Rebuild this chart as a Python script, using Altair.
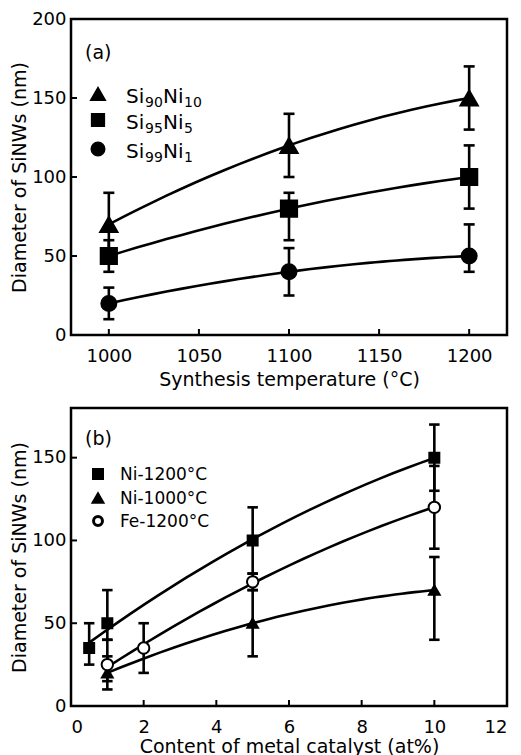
import altair as alt
import pandas as pd

FONT = "DejaVu Sans"

# ---------------- Panel (a) data ----------------
temps = [1000, 1100, 1200]
a_series = ["Si90Ni10", "Si95Ni5", "Si99Ni1"]
a_mean = {"Si90Ni10": [70, 120, 150], "Si95Ni5": [50, 80, 100], "Si99Ni1": [20, 40, 50]}
a_lo = {"Si90Ni10": [50, 100, 130], "Si95Ni5": [40, 60, 80], "Si99Ni1": [10, 25, 40]}
a_hi = {"Si90Ni10": [90, 140, 170], "Si95Ni5": [60, 90, 120], "Si99Ni1": [30, 55, 70]}
a_shapes = ["triangle-up", "square", "circle"]
a_xticks = [1000, 1050, 1100, 1150, 1200]
a_yticks = [0, 50, 100, 150, 200]

# ---------------- Panel (b) data ----------------
b_series = ["Ni-1200°C", "Ni-1000°C", "Fe-1200°C"]
b_x = {"Ni-1200°C": [0.5, 1, 5, 10], "Ni-1000°C": [1, 5, 10], "Fe-1200°C": [1, 2, 5, 10]}
b_mean = {"Ni-1200°C": [35, 50, 100, 150], "Ni-1000°C": [20, 50, 70], "Fe-1200°C": [25, 35, 75, 120]}
b_lo = {"Ni-1200°C": [25, 40, 80, 130], "Ni-1000°C": [10, 30, 40], "Fe-1200°C": [15, 20, 70, 95]}
b_hi = {"Ni-1200°C": [50, 70, 120, 170], "Ni-1000°C": [30, 70, 90], "Fe-1200°C": [40, 50, 80, 145]}
b_shapes = ["square", "triangle-up", "circle"]
b_xticks = [0, 2, 4, 6, 8, 10, 12]
b_yticks = [0, 50, 100, 150]


def table(series, xs, mean, lo, hi):
    rows = []
    for s in series:
        xv = xs[s] if isinstance(xs, dict) else xs
        for i, x in enumerate(xv):
            rows.append({"series": s, "x": x, "y": mean[s][i], "lo": lo[s][i], "hi": hi[s][i]})
    return pd.DataFrame(rows)


df_a = table(a_series, temps, a_mean, a_lo, a_hi)
df_b = table(b_series, b_x, b_mean, b_lo, b_hi)

CAP = "M-1,0L1,0"


def panel(df, series, shapes, sizes, fills, strokes, xdom, ydom, xticks, yticks, xtitle, ytitle,
          W, H, capsize, lw, tag, legend_items, legend_pos, leg_sizes, xlabpad, xtitpad):
    xs = alt.Scale(domain=xdom, nice=False, zero=False)
    ys = alt.Scale(domain=ydom, nice=False, zero=False)
    xax = alt.Axis(values=xticks, title=xtitle, format="d", labelPadding=xlabpad, titlePadding=xtitpad)
    yax = alt.Axis(values=yticks, title=ytitle, format="d", labelPadding=5, titlePadding=2)

    def X(f):
        return alt.X(f, type="quantitative", scale=xs, axis=xax)

    def Y(f):
        return alt.Y(f, type="quantitative", scale=ys, axis=yax)

    base = alt.Chart(df)
    bars = base.mark_rule(color="black", strokeWidth=lw).encode(x=X("x"), y=Y("lo"), y2="hi")
    cap_lo = base.mark_point(shape=CAP, size=capsize, filled=False, color="black",
                             strokeWidth=lw, opacity=1).encode(x=X("x"), y=Y("lo"))
    cap_hi = base.mark_point(shape=CAP, size=capsize, filled=False, color="black",
                             strokeWidth=lw, opacity=1).encode(x=X("x"), y=Y("hi"))
    lines = base.transform_regression(
        "x", "y", groupby=["series"], method="poly", order=2
    ).mark_line(color="black", strokeWidth=lw).encode(x=X("x"), y=Y("y"), detail="series:N")
    pts = base.mark_point(opacity=1, stroke="black").encode(
        x=X("x"), y=Y("y"),
        shape=alt.Shape("series:N", scale=alt.Scale(domain=series, range=shapes), legend=None),
        size=alt.Size("series:N", scale=alt.Scale(domain=series, range=sizes), legend=None),
        fill=alt.Fill("series:N", scale=alt.Scale(domain=series, range=fills), legend=None),
        strokeWidth=alt.StrokeWidth("series:N", scale=alt.Scale(domain=series, range=strokes), legend=None),
    )
    # inward tick marks
    xt = alt.Chart(pd.DataFrame({"t": xticks})).mark_rule(color="black", strokeWidth=2).encode(
        x=X("t"), y=alt.value(H), y2=alt.value(H - 6))
    yt = alt.Chart(pd.DataFrame({"t": yticks})).mark_rule(color="black", strokeWidth=2).encode(
        y=Y("t"), x=alt.value(0), x2=alt.value(6))

    layers = [xt, yt, bars, cap_lo, cap_hi, lines, pts]

    # panel tag
    layers.append(alt.Chart(pd.DataFrame({"t": [tag]})).mark_text(
        font=FONT, fontSize=19, align="left", baseline="middle", color="black"
    ).encode(x=alt.value(legend_pos["tagx"]), y=alt.value(legend_pos["tagy"]), text="t:N"))

    # legend
    for i, (s, shp) in enumerate(zip(series, shapes)):
        yy = legend_pos["y"][i]
        layers.append(alt.Chart(pd.DataFrame({"s": [s]})).mark_point(
            shape=shp, size=leg_sizes[i], opacity=1, fill=fills[i], stroke="black", strokeWidth=strokes[i]
        ).encode(x=alt.value(legend_pos["mx"]), y=alt.value(yy)))
        for part, px, fs, dy in legend_items[i]:
            layers.append(alt.Chart(pd.DataFrame({"t": [part]})).mark_text(
                font=FONT, fontSize=fs, align="left", baseline="middle", color="black", dy=dy
            ).encode(x=alt.value(px), y=alt.value(yy), text="t:N"))

    return alt.layer(*layers).properties(width=W, height=H)


a_legend = [
    [("Si", 55, 20, 3), ("90", 74, 14, 9), ("Ni", 92, 20, 3), ("10", 113, 14, 9)],
    [("Si", 55, 20, 3), ("95", 74, 14, 9), ("Ni", 92, 20, 3), ("5", 113, 14, 9)],
    [("Si", 55, 20, 3), ("99", 74, 14, 9), ("Ni", 92, 20, 3), ("1", 113, 14, 9)],
]
b_legend = [
    [("Ni-1200°C", 49, 17, 1)],
    [("Ni-1000°C", 49, 17, 1)],
    [("Fe-1200°C", 49, 17, 1)],
]

pa = panel(df_a, a_series, a_shapes, [300, 225, 225], ["black", "black", "black"], [2, 2, 2],
           [979, 1221], [0, 200], a_xticks, a_yticks,
           "Synthesis temperature (°C)", "Diameter of SiNWs (nm)", 436, 316, 121, 2.6, "(a)",
           a_legend, {"tagx": 14, "tagy": 34, "mx": 27, "y": [75, 101, 130]}, [190, 150, 170],
           12, 5)

pb = panel(df_b, b_series, b_shapes, [100, 130, 100], ["black", "black", "white"], [2, 2, 3],
           [0, 12], [0, 180], b_xticks, b_yticks,
           "Content of metal catalyst (at%)", "Diameter of SiNWs (nm)", 436, 298, 110, 2.6, "(b)",
           b_legend, {"tagx": 14, "tagy": 31, "mx": 27, "y": [66, 90, 113]}, [100, 120, 80],
           12, 1)

chart = alt.vconcat(pa, pb, spacing=15).resolve_scale(
    shape="independent", size="independent", fill="independent", strokeWidth="independent"
).properties(
    padding={"top": 0, "left": 1, "right": 0, "bottom": 0}, background="white"
).configure_view(stroke="black", strokeWidth=2.5).configure_axis(
    grid=False, ticks=False, tickSize=0, domain=False,
    labelFont=FONT, titleFont=FONT, labelFontSize=18, titleFontSize=19,
    titleFontWeight="normal", labelColor="black", titleColor="black",
)

chart.save("out.html", embed_options={"renderer": "svg", "actions": False})
